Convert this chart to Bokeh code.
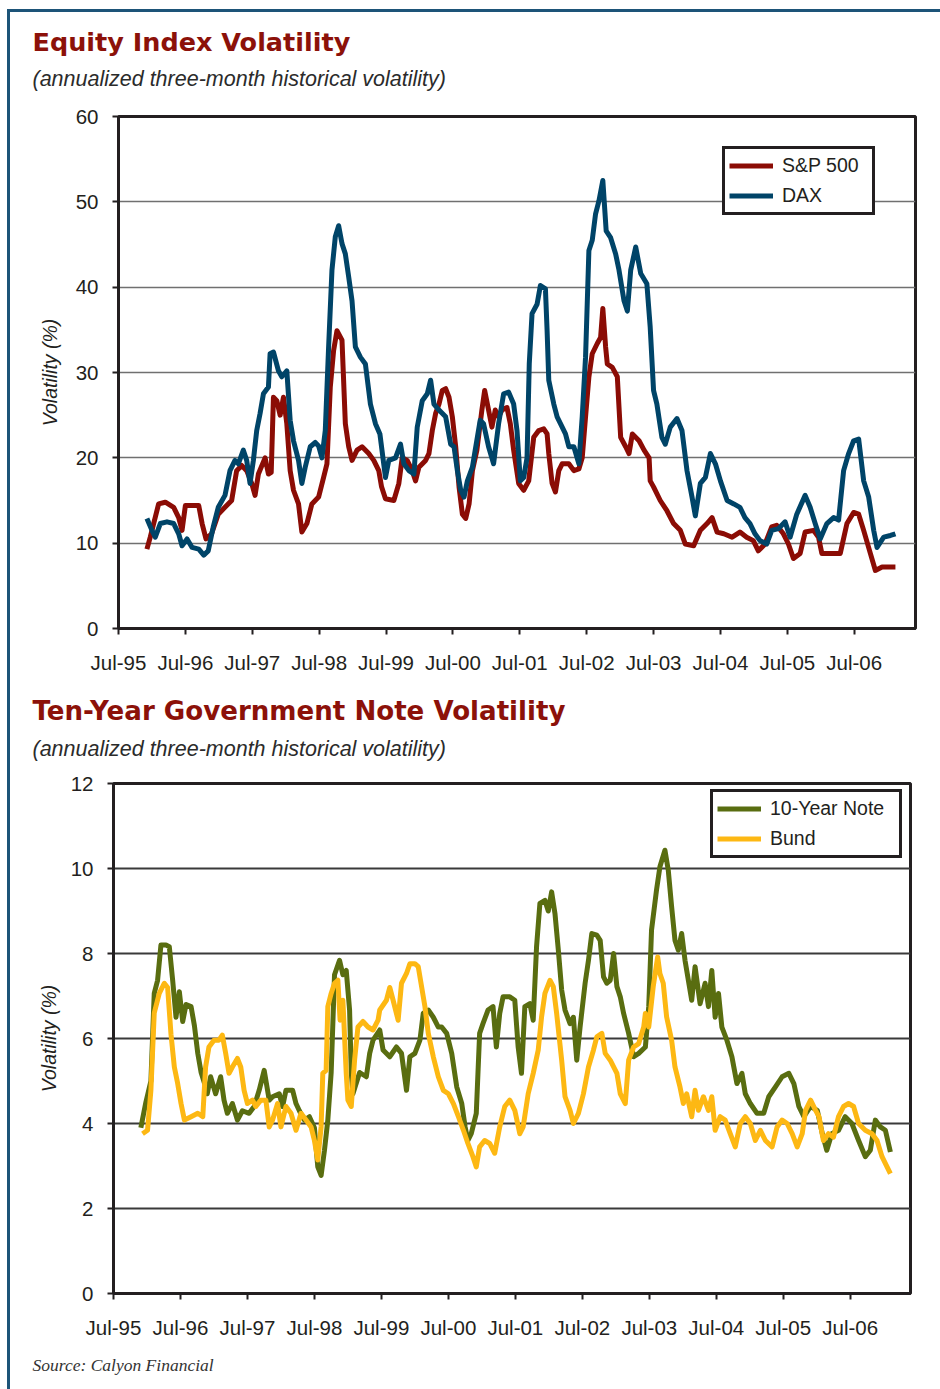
from bokeh.plotting import figure
from bokeh.models import Label, Legend, LegendItem, FixedTicker, Range1d, Spacer
from bokeh.layouts import column, row
from bokeh.embed import file_html
from bokeh.resources import INLINE

# ---------------- data (x = months since July 1995) ----------------
tick_months = [0, 12, 24, 36, 48, 60, 72, 84, 96, 108, 120, 132]
tick_labels = ["Jul-95", "Jul-96", "Jul-97", "Jul-98", "Jul-99", "Jul-00",
               "Jul-01", "Jul-02", "Jul-03", "Jul-04", "Jul-05", "Jul-06"]

sp_month = [5.1, 5.7, 7.2, 8.4, 9.9, 10.8, 11.4, 12.0, 12.9, 14.4, 15.0, 15.7, 16.7, 17.9, 19.1,
            20.3, 21.2, 22.1, 23.0, 23.9, 24.5, 25.1, 26.3, 26.9, 27.4, 27.8, 28.4, 29.0, 29.6, 30.2,
            30.8, 31.4, 32.3, 32.9, 33.8, 34.7, 35.9, 36.8, 37.4, 38.0, 38.6, 39.2, 40.1, 40.7, 41.3,
            41.9, 42.8, 43.7, 44.9, 45.8, 46.7, 47.2,
            47.9, 49.4, 50.3, 50.9, 51.8, 52.7, 53.3, 53.9, 55.1, 55.7, 56.3, 56.9, 57.5, 58.1, 58.7,
            59.3, 59.9, 60.5, 61.1, 61.7, 62.3, 62.9, 63.5, 64.3, 65.2, 65.7, 66.4, 67.0, 67.6, 68.2,
            68.8, 69.7, 70.3, 70.9, 71.8, 72.7, 73.6, 74.5, 75.4, 76.3, 76.9, 77.2, 77.8, 78.4, 79.0,
            79.6, 80.8, 81.7, 82.6, 83.2, 83.8, 84.4, 85.0, 85.9, 86.5, 86.9, 87.4, 87.7, 88.6, 89.5,
            90.1, 91.0, 91.6, 92.2, 93.4, 94.3, 95.2,
            95.4, 96.0, 97.2, 98.4, 99.6, 100.8, 101.7, 103.2, 104.4, 105.6, 106.5, 107.4, 108.6, 110.1,
            111.5, 112.7, 113.9, 114.8, 116.0, 117.2, 118.1, 119.3, 120.2, 121.1, 122.3, 123.2, 124.7,
            125.6, 126.2, 127.7, 129.5, 130.7, 131.9, 132.8, 133.7, 134.9, 135.8, 137.0, 138.2, 139.4]
sp_vol = [9.3, 10.7, 14.6, 14.8, 14.2, 13.0, 11.5, 14.4, 14.4, 14.4, 12.3, 10.5, 11.1, 13.4, 14.2,
          15.0, 18.5, 19.1, 18.5, 17.0, 15.6, 18.1, 20.0, 18.1, 18.3, 27.1, 26.7, 25.0, 27.1, 24.0,
          18.5, 16.2, 14.6, 11.3, 12.3, 14.6, 15.4, 17.7, 19.3, 28.3, 32.6, 34.9, 33.8, 24.0, 21.3,
          19.7, 20.9, 21.3, 20.5, 19.7, 18.5, 16.6,
          15.2, 15.0, 17.0, 20.0, 19.7, 18.5, 17.3, 18.9, 19.7, 20.5, 23.2, 25.2, 26.3, 27.9, 28.1,
          27.1, 24.8, 21.3, 16.6, 13.4, 12.9, 14.6, 18.5, 20.9, 25.6, 27.9, 25.6, 23.6, 25.6, 24.8,
          25.6, 25.9, 24.0, 20.9, 17.0, 16.2, 17.3, 22.4, 23.2, 23.4, 22.8, 20.5, 17.0, 16.0, 18.5,
          19.3, 19.3, 18.5, 18.7, 20.0, 24.8, 29.5, 32.2, 33.4, 34.1, 37.5, 33.0, 31.0, 30.6, 29.5,
          22.4, 21.3, 20.5, 22.8, 22.0, 20.9, 20.0,
          17.3, 16.6, 15.0, 13.8, 12.3, 11.5, 9.9, 9.7, 11.5, 12.3, 13.0, 11.3, 11.1, 10.7,
          11.3, 10.7, 10.3, 9.1, 9.9, 11.9, 12.1, 11.1, 9.9, 8.2, 8.8, 11.3, 11.5,
          10.7, 8.8, 8.8, 8.8, 12.3, 13.6, 13.4, 11.5, 8.8, 6.8, 7.2, 7.2, 7.2]

dax_month = [5.1, 6.0, 6.6, 7.5, 8.7, 9.9, 10.8, 11.4, 12.3, 13.2, 14.4, 15.3, 16.1, 17.0, 17.9,
             19.1, 20.0, 20.9, 21.5, 22.4, 23.0, 23.6, 24.2, 24.8, 25.4, 26.0, 26.9, 27.2, 27.8, 28.7,
             29.3, 30.2, 30.8, 31.4, 32.3, 32.9, 33.5, 34.4, 35.3, 35.9, 36.5, 37.1, 37.7, 38.3, 38.9,
             39.5, 40.1, 40.7, 41.3, 41.9, 42.5, 43.4, 44.3, 45.2, 46.1, 46.9,
             47.9, 48.5, 49.7, 50.6, 51.2, 52.1, 53.0, 53.6, 54.5, 55.4, 56.0, 56.6, 57.5, 58.7, 59.6,
             60.2, 60.8, 61.4, 62.0, 62.6, 63.5, 64.0, 64.9, 65.5, 66.4, 67.3, 68.2, 69.1, 70.0, 70.9,
             71.5, 72.1, 72.7, 73.3, 73.7, 74.2, 75.1, 75.7, 76.6, 76.9, 77.2, 78.1, 78.7, 79.3, 80.2,
             80.8, 81.7, 82.6, 83.2, 83.8, 84.4, 85.0, 85.6, 86.2, 86.9, 87.5, 88.3, 89.2, 89.8, 90.7,
             91.3, 91.9, 92.8, 93.7, 94.8,
             95.4, 96.0, 96.6, 97.5, 98.1, 99.0, 100.2, 101.1, 102.0, 102.9, 103.5, 104.4, 105.3, 106.2,
             107.1, 108.0, 109.2, 110.4, 111.5, 112.4, 113.3, 114.2, 115.1, 116.3, 117.2, 118.4, 119.6,
             120.5, 121.7, 123.2, 124.1, 125.0, 125.9, 127.1, 128.3, 129.2, 130.1, 131.0, 131.9, 132.8,
             133.7, 134.6, 135.5, 136.1, 137.3, 138.5, 139.4]
dax_vol = [12.9, 11.5, 10.7, 12.3, 12.5, 12.3, 11.1, 9.7, 10.5, 9.5, 9.3, 8.6, 9.1, 11.9, 14.2,
           15.6, 18.5, 19.7, 19.3, 20.9, 19.7, 17.0, 19.7, 23.2, 25.2, 27.5, 28.3, 32.2, 32.4, 30.2,
           29.5, 30.2, 24.4, 22.0, 19.7, 17.0, 18.9, 21.3, 21.8, 21.4, 20.0, 23.2, 33.0, 42.0, 45.9,
           47.2, 45.1, 43.9, 41.2, 38.4, 33.0, 31.8, 31.0, 26.3, 24.0, 22.8,
           17.7, 19.7, 20.0, 21.6, 19.3, 18.5, 18.1, 23.6, 26.7, 27.5, 29.1, 26.3, 25.6, 24.8, 21.6,
           21.3, 18.5, 16.2, 15.4, 17.3, 18.9, 20.9, 24.4, 24.0, 21.3, 19.3, 24.0, 27.5, 27.7, 26.3,
           23.2, 17.3, 17.7, 20.0, 31.0, 36.9, 38.0, 40.2, 39.8, 34.9, 29.1, 26.3, 24.8, 24.0, 22.8,
           21.3, 21.3, 19.3, 24.8, 31.8, 44.3, 45.5, 48.6, 50.1, 52.5, 46.6, 45.8, 43.9, 42.0, 38.4,
           37.2, 42.0, 44.7, 41.6, 40.4,
           35.3, 27.9, 26.3, 22.4, 21.6, 23.6, 24.6, 23.2, 18.5, 15.4, 13.2, 17.0, 17.7, 20.5,
           19.3, 17.3, 15.0, 14.6, 14.2, 13.0, 12.3, 11.1, 10.3, 9.9, 11.5, 11.7, 12.5,
           10.7, 13.4, 15.6, 14.2, 12.3, 10.5, 12.3, 13.0, 12.7, 18.5, 20.5, 22.0, 22.2,
           17.3, 15.4, 11.5, 9.5, 10.7, 10.9, 11.1]

note_month = [4.9, 5.8, 6.7, 7.3, 7.9, 8.5, 9.4, 10.0, 10.6, 11.2, 11.8, 12.4, 13.0, 13.9, 14.5,
              15.1, 15.7, 16.3, 16.8, 17.4, 18.3, 19.2, 19.8, 20.4, 21.3, 22.2, 23.1, 24.3, 25.2, 26.1,
              27.0, 27.9, 28.5, 29.7, 30.3, 30.9, 32.1, 32.7, 33.3, 34.2, 35.1, 36.0, 36.6, 37.2, 37.8,
              38.4, 39.0, 39.6, 40.5, 41.1, 41.7, 42.3, 42.6, 42.9, 44.1, 45.3, 45.9, 46.5,
              47.7, 48.3, 49.5, 50.7, 51.6, 52.5, 53.1, 54.0, 54.9, 55.5, 56.4, 57.3, 58.2, 58.8, 59.7,
              60.6, 61.5, 62.4, 63.0, 63.5, 64.1, 65.0, 65.6, 66.2, 67.1, 68.0, 68.6, 69.2, 69.8, 71.0,
              71.9, 72.5, 73.1, 73.7, 74.6, 75.2, 75.8, 76.4, 77.3, 77.9, 78.5, 79.1, 79.7, 80.3, 80.9,
              81.8, 82.4, 83.0, 83.6, 84.5, 85.1, 85.7, 86.6, 87.2, 87.8, 88.4, 89.0, 89.6, 90.2, 90.8,
              91.4, 92.3, 93.2, 94.1,
              95.3, 95.9, 96.4, 97.3, 97.9, 98.8, 99.4, 100.0, 100.6, 101.2, 101.8, 102.4, 103.0, 103.6,
              104.2, 105.1, 106.0, 106.6, 107.2, 107.8, 108.4, 109.0, 109.9, 110.8, 111.7, 112.6, 113.2,
              114.1, 115.3, 116.5, 117.4, 118.6, 119.8, 121.0, 121.9, 122.8, 123.7, 124.9, 126.1, 127.0,
              127.8, 128.7, 129.9, 131.1, 132.3, 133.5, 134.7, 135.6, 136.5, 137.4, 138.3, 139.2]
note_vol = [3.9, 4.5, 5.0, 7.06, 7.37, 8.2, 8.2, 8.16, 7.37, 6.5, 7.1, 6.4, 6.8, 6.75, 6.3,
            5.65, 5.2, 4.95, 4.7, 5.1, 4.7, 5.1, 4.55, 4.24, 4.47, 4.08, 4.3, 4.24, 4.4, 4.78,
            5.25, 4.55, 4.63, 4.7, 4.4, 4.78, 4.78, 4.47, 4.3, 4.08, 4.16, 3.9, 2.98, 2.78, 3.37,
            4.08, 5.2, 7.5, 7.84, 7.5, 7.6, 6.67, 5.2, 4.7, 5.2, 5.1, 5.65, 5.96,
            6.2, 5.73, 5.57, 5.8, 5.65, 4.78, 5.57, 5.65, 5.96, 6.59, 6.67, 6.5, 6.27, 6.27, 6.12,
            5.65, 4.86, 4.47, 3.92, 3.6, 3.76, 4.24, 6.12, 6.35, 6.67, 6.75, 5.8, 6.59, 6.98, 6.98,
            6.9, 5.8, 5.18, 6.75, 6.82, 6.43, 8.16, 9.18, 9.25, 9.0, 9.45, 8.94, 8.08, 7.14, 6.67,
            6.35, 6.5, 5.49, 6.27, 7.3, 7.84, 8.47, 8.43, 8.31, 7.45, 7.3, 7.37, 8.0, 7.22, 6.98,
            6.59, 6.12, 5.57, 5.65,
            5.8, 6.75, 8.55, 9.5, 10.04, 10.43, 9.96, 9.1, 8.31, 8.08, 8.47, 7.84, 7.37, 6.9,
            7.69, 6.82, 7.3, 6.75, 7.6, 6.5, 7.06, 6.27, 5.96, 5.57, 4.94, 5.18, 4.7,
            4.47, 4.24, 4.24, 4.63, 4.86, 5.1, 5.18, 4.94, 4.4, 4.16, 4.4, 4.31, 3.76,
            3.37, 3.76, 3.84, 4.16, 4.0, 3.6, 3.22, 3.37, 4.08, 3.92, 3.84, 3.33]

bund_month = [5.2, 6.1, 6.7, 7.3, 8.2, 9.1, 9.7, 10.3, 10.9, 11.5, 12.1, 12.7, 13.9, 15.1, 16.0,
              16.5, 17.1, 18.0, 18.9, 19.5, 20.1, 20.7, 21.3, 22.2, 22.8, 23.4, 24.0, 24.9, 25.5, 26.4,
              27.3, 27.9, 28.5, 29.4, 30.0, 30.9, 31.8, 32.7, 33.6, 34.5, 35.4, 36.0, 36.6, 37.2, 37.5,
              38.1, 38.4, 39.0, 39.6, 40.2, 40.6, 41.1, 41.7, 42.0, 42.6, 43.2, 43.8, 44.7, 45.6, 46.5,
              47.4,
              47.7, 48.9, 49.5, 50.1, 51.0, 51.6, 52.5, 53.1, 54.0, 54.6, 55.2, 55.8, 56.4, 57.3, 58.2,
              59.1, 60.0, 60.9, 61.8, 62.7, 63.5, 64.4, 65.0, 65.6, 66.5, 67.4, 68.3, 69.2, 70.1, 71.0,
              71.9, 72.8, 73.4, 74.3, 75.2, 76.1, 76.7, 77.3, 78.2, 78.8, 79.4, 80.3, 80.9, 81.8, 82.4,
              83.3, 84.2, 85.1, 86.0, 86.6, 87.5, 88.1, 89.0, 90.2, 90.8, 91.7, 92.3, 93.2, 94.1, 95.0,
              95.3, 95.9, 96.7, 97.5, 97.9, 98.5, 99.1, 100.0, 100.6, 101.5, 102.1, 102.7, 103.6, 104.2,
              104.8, 105.7, 106.6, 107.2, 107.8, 108.7, 109.6, 110.5, 111.4, 112.3, 113.2, 114.1, 115.0,
              115.9, 116.8, 118.0, 118.9, 119.8, 120.7, 121.6, 122.5, 123.4, 124.0, 124.9, 125.8, 126.4,
              127.2, 128.1, 129.0, 129.9, 130.8, 131.7, 132.6, 133.5, 134.7, 135.9, 136.8, 137.7, 138.6,
              139.2]
bund_vol = [3.76, 3.84, 4.78, 6.6, 7.06, 7.3, 7.2, 6.1, 5.33, 4.94, 4.47, 4.08, 4.16, 4.24, 4.16,
            5.33, 5.8, 5.96, 5.96, 6.08, 5.65, 5.18, 5.33, 5.53, 5.33, 4.78, 4.47, 4.55, 4.4, 4.55,
            4.55, 3.92, 4.08, 4.47, 3.92, 4.4, 4.24, 3.84, 4.24, 4.08, 3.92, 3.6, 3.14, 3.92, 5.18,
            5.25, 6.75, 7.06, 7.3, 7.37, 6.43, 6.9, 5.18, 4.55, 4.4, 5.5, 6.27, 6.4, 6.27, 6.2,
            6.43,
            6.67, 6.9, 7.2, 6.9, 6.43, 7.3, 7.53, 7.76, 7.76, 7.69, 7.22, 6.75, 6.12, 5.57, 5.1,
            4.78, 4.7, 4.47, 4.16, 3.84, 3.53, 3.22, 2.98, 3.45, 3.6, 3.53, 3.3, 3.92, 4.4, 4.55,
            4.31, 3.76, 3.92, 4.7, 5.18, 5.73, 6.51, 7.06, 7.37, 7.22, 6.59, 5.49, 4.63, 4.31, 4.0,
            4.24, 4.7, 5.33, 5.73, 6.04, 6.12, 5.65, 5.49, 5.18, 4.7, 4.47, 5.49, 5.8, 5.88, 6.27,
            6.59, 6.27, 7.22, 7.92, 7.53, 7.3, 6.51, 5.96, 5.33, 4.86, 4.47, 4.7, 4.16, 4.78,
            4.31, 4.63, 4.31, 4.63, 3.84, 4.16, 4.08, 3.76, 3.45, 4.0, 4.16, 4.0, 3.6,
            3.84, 3.6, 3.45, 3.92, 4.08, 4.0, 3.76, 3.45, 3.76, 4.31, 4.55, 4.31, 4.16,
            3.6, 3.76, 3.68, 4.16, 4.4, 4.47, 4.4, 4.0, 3.84, 3.76, 3.6, 3.22, 2.98,
            2.82]

equity_ticks = [0, 10, 20, 30, 40, 50, 60]
note_ticks = [0, 2, 4, 6, 8, 10, 12]

# ---------------- styling ----------------
INK = "#231f20"
TITLE_RED = "#8c1109"
BORDER_BLUE = "#1d5478"
SANS = "Liberation Sans"
CONTENT_W = 930


def make_fig(ymax, yticks, xmax, frame_h, left, right, top, bottom, grid_color, grid_width,
             label_standoff):
    p = figure(frame_width=797, frame_height=frame_h,
               x_range=Range1d(0, xmax), y_range=Range1d(0, ymax),
               output_backend="svg", toolbar_location=None,
               min_border_left=left, min_border_right=right,
               min_border_top=top, min_border_bottom=bottom)
    p.background_fill_color = "white"
    p.border_fill_color = "white"
    p.outline_line_color = INK
    p.outline_line_width = 3
    p.xgrid.visible = False
    p.ygrid.grid_line_color = grid_color
    p.ygrid.grid_line_width = grid_width
    p.xaxis.ticker = FixedTicker(ticks=tick_months)
    p.xaxis.major_label_overrides = {m: lab for m, lab in zip(tick_months, tick_labels)}
    p.yaxis.ticker = FixedTicker(ticks=yticks)
    for ax in (p.xaxis, p.yaxis):
        ax.axis_line_color = INK
        ax.axis_line_width = 3
        ax.major_tick_line_color = INK
        ax.major_tick_line_width = 2
        ax.major_tick_out = 6
        ax.major_tick_in = 0
        ax.minor_tick_out = 0
        ax.minor_tick_in = 0
        ax.major_label_text_font = SANS
        ax.major_label_text_font_size = "20.5px"
        ax.major_label_text_color = INK
    p.xaxis.major_label_standoff = 16
    p.yaxis.major_label_standoff = 14
    p.yaxis.axis_label = "Volatility (%)"
    p.yaxis.axis_label_text_font = SANS
    p.yaxis.axis_label_text_font_size = "19.5px"
    p.yaxis.axis_label_text_font_style = "italic"
    p.yaxis.axis_label_text_color = INK
    p.yaxis.axis_label_standoff = label_standoff
    return p


def text_strip(height, texts):
    """A blank strip whose frame is the whole strip; texts placed in pixel units from top-left."""
    s = figure(frame_width=CONTENT_W, frame_height=height, x_range=Range1d(0, CONTENT_W),
               y_range=Range1d(height, 0), output_backend="svg", toolbar_location=None,
               x_axis_type=None, y_axis_type=None,
               min_border_left=0, min_border_right=0, min_border_top=0, min_border_bottom=0)
    s.outline_line_color = None
    s.grid.visible = False
    s.background_fill_color = "white"
    s.border_fill_color = "white"
    for (x, y, txt, font, size, color, style) in texts:
        s.add_layout(Label(x=x, y=y, text=txt, text_font=font, text_font_size=size,
                           text_color=color, text_font_style=style,
                           text_align="left", text_baseline="alphabetic"))
    return s


def make_legend(p, items, loc, label_width):
    leg = Legend(items=items, location=loc, orientation="vertical",
                 border_line_color=INK, border_line_width=3, border_line_alpha=1.0,
                 background_fill_color="white", background_fill_alpha=1.0,
                 padding=4, spacing=5, margin=0,
                 glyph_width=44, glyph_height=25, label_height=25,
                 label_standoff=9, label_width=label_width,
                 label_text_font=SANS, label_text_font_size="19.5px",
                 label_text_color=INK)
    p.add_layout(leg)


SUB = "(annualized three-month historical volatility)"

# ---- header 1 ----
head1 = text_strip(90, [
    (22, 29.0, "Equity Index Volatility", "DejaVu Sans", "25.5px", TITLE_RED, "bold"),
    (22, 66.5, SUB, SANS, "21.5px", "#2b2b2b", "italic"),
])

# ---- chart 1: equity index volatility ----
p1 = make_fig(60, equity_ticks, 143, 512, 108, 25, 14, 50, "#707070", 1.3, 12)
r_sp = p1.line(sp_month, sp_vol, line_color="#8b0c05", line_width=5, line_join="round")
r_dax = p1.line(dax_month, dax_vol, line_color="#004468", line_width=5, line_join="round")
make_legend(p1, [LegendItem(label="S\u0026P 500", renderers=[r_sp]),
                 LegendItem(label="DAX", renderers=[r_dax])], (604, 413), 86)

# ---- header 2 ----
head2 = text_strip(92, [
    (22, 32.8, "Ten-Year Government Note Volatility", "DejaVu Sans", "26.1px", TITLE_RED, "bold"),
    (22, 70.5, SUB, SANS, "21.5px", "#2b2b2b", "italic"),
])

# ---- chart 2: ten-year government note volatility ----
p2 = make_fig(12, note_ticks, 142.8, 510, 103, 30, 13, 50, "#3a3a3a", 2, 8)
r_note = p2.line(note_month, note_vol, line_color="#596d10", line_width=5, line_join="round")
r_bund = p2.line(bund_month, bund_vol, line_color="#fdb813", line_width=5, line_join="round")
make_legend(p2, [LegendItem(label="10-Year Note", renderers=[r_note]),
                 LegendItem(label="Bund", renderers=[r_bund])], (597, 435), 125)

# ---- footer ----
foot = text_strip(46, [
    (22, 21.8, "Source: Calyon Financial", "Liberation Serif", "17.5px", "#333333", "italic"),
])

top_pad = Spacer(width=940, height=9)
left_pad = Spacer(width=7, height=1380)
top_bar = Spacer(width=933, height=3, styles={"background-color": BORDER_BLUE})
left_bar = Spacer(width=3, height=1377, styles={"background-color": BORDER_BLUE})
# each block sits in its own row so that Bokeh does not align the frames of the blocks
content = column(row(head1), row(p1), row(head2), row(p2), row(foot))
page = column(top_pad, row(left_pad, column(top_bar, row(left_bar, content))))

open("out.html", "w").write(file_html(page, INLINE))
